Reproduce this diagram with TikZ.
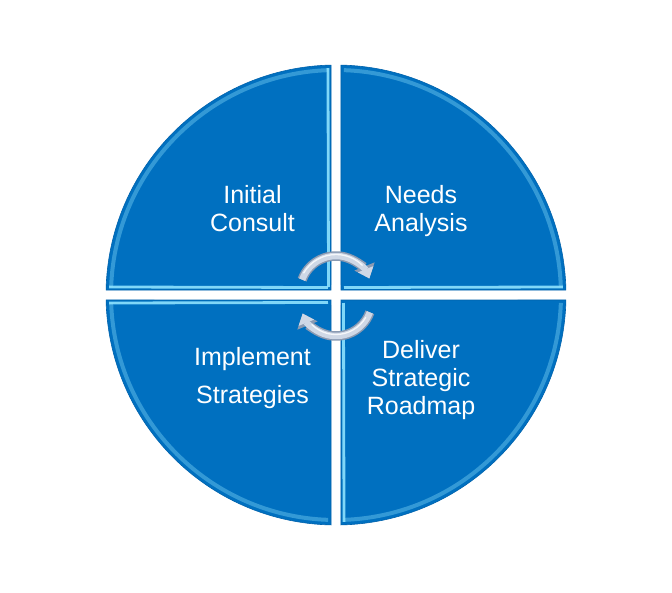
\documentclass[tikz,border=0pt]{standalone}
\usepackage{fontspec}
\setmainfont{Liberation Sans}
\usetikzlibrary{arrows.meta}
\definecolor{qblue}{HTML}{0070C0}
\definecolor{qlight}{HTML}{8FE3FF}
\definecolor{qdark}{HTML}{0062AC}
\definecolor{arrowfill}{HTML}{CFD8E6}
\definecolor{arrowedge}{HTML}{8A9AB2}
\begin{document}
\begin{tikzpicture}[x=1pt,y=1pt,
 quad/.style={fill=qblue, draw=qdark, line width=0.6},
 rim/.style={draw=qlight, line width=2.8, opacity=0.9},
 rimarc/.style={draw=qlight!60!qblue, line width=4, opacity=0.6},
 qtext/.style={text=white, font=\fontsize{25}{28}\selectfont, align=center},
 arrout/.style={draw=arrowedge, line width=9.5, -{Triangle[width=21pt,length=13pt]}},
 arrin/.style={draw=arrowfill, line width=6.5, -{Triangle[width=16pt,length=10pt]}}]
\useasboundingbox (-336,-297) rectangle (336,295);
\fill[white] (-336,-297) rectangle (336,295);
\foreach \r/\litA in {0/0,90/1,180/0,270/0} {
 \begin{scope}[rotate=\r]
  \path[quad] (5,5) -- (88.754:230) arc[start angle=88.754, end angle=1.246, radius=230] -- cycle;
  \begin{scope}
   \clip (5,5) -- (88.754:230) arc[start angle=88.754, end angle=1.246, radius=230] -- cycle;
   \draw[rimarc] (2.02:225) arc[start angle=2.02, end angle=87.98, radius=225];
   \draw[rim] (8,7.5) -- (2.02:227);
   \ifnum\litA=1 \draw[rim] (7.5,8) -- (87.98:227); \fi
  \end{scope}
 \end{scope}
}
% circular arrows
\draw[arrout] ([shift={(0,3)}]160:36) arc[start angle=160, end angle=22, radius=36];
\draw[arrin] ([shift={(0,3)}]160:36) arc[start angle=160, end angle=22, radius=36];
\draw[white, line width=1.3, opacity=0.8] ([shift={(0,3)}]150:37.5) arc[start angle=150, end angle=45, radius=37.5];
\draw[arrout] ([shift={(0,-5)}]-20:36) arc[start angle=-20, end angle=-158, radius=36];
\draw[arrin] ([shift={(0,-5)}]-20:36) arc[start angle=-20, end angle=-158, radius=36];
\draw[white, line width=1.3, opacity=0.8] ([shift={(0,-5)}]-30:34.5) arc[start angle=-30, end angle=-135, radius=34.5];
% labels
\node[qtext] (ic) at (-83.5,86.5) {Initial\\Consult};
\node[qtext] (na) at (85,84) {Needs\\Analysis};
\node[qtext, font=\fontsize{25}{38}\selectfont] (is) at (-83.5,-83.5) {Implement\\Strategies};
\node[qtext] (dsr) at (85,-85) {Deliver\\Strategic\\Roadmap};
\end{tikzpicture}
\end{document}
